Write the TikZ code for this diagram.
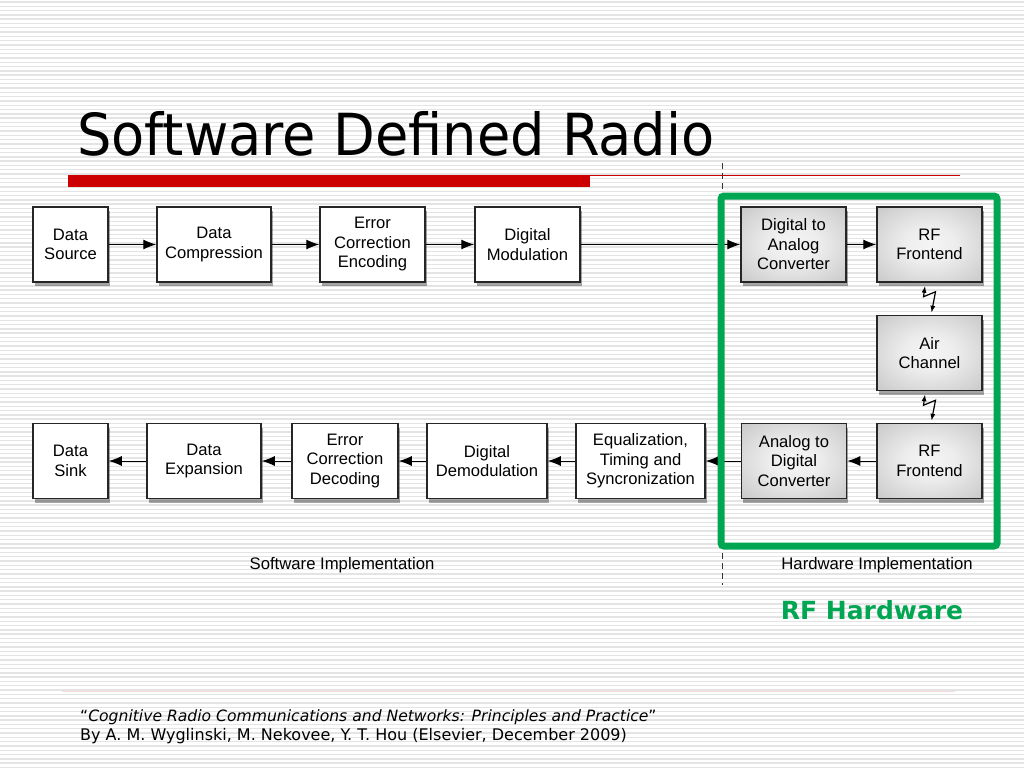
\documentclass[tikz,border=0pt]{standalone}
\usepackage{xcolor}
\usepackage{tikz}
\usepackage{fontspec}
\setmainfont{Liberation Sans}
\newfontfamily\verdfont{DejaVu Sans}
\usetikzlibrary{arrows.meta,shadows,calc}
\definecolor{sdrred}{RGB}{204,0,0}
\definecolor{sdrgreen}{RGB}{0,166,81}
\definecolor{stripe}{RGB}{228,228,228}
\pgfdeclareradialshading{hwshade}{\pgfpoint{0bp}{0bp}}{color(0bp)=(white!96!black); color(12bp)=(white!93!black); color(50bp)=(black!30); color(72bp)=(black!42)}

\begin{document}
\begin{tikzpicture}[x=1pt,y=-1pt,
    every node/.style={align=center},
    blk/.style={draw=black!85,line width=1.5pt,minimum height=75pt,inner sep=0pt,
      font=\fontsize{16.6}{19.5}\selectfont,
      drop shadow={shadow xshift=1.5pt,shadow yshift=-4pt,opacity=0.35,fill=black}},
    sw/.style={blk,fill=white},
    hw/.style={blk,shading=hwshade},
    link/.style={line width=1pt,-{Latex[length=13pt,width=10pt]}},
    zap/.style={line width=1.2pt,{Latex[length=7pt,width=5pt]}-{Latex[length=7pt,width=5pt]}}]
  \useasboundingbox (0,0) rectangle (1024,768);
  \fill[white] (0,0) rectangle (1024,768);
  \foreach \y in {2,6.3,...,768}
    \draw[stripe,line width=1.4pt] (0,\y) -- (1024,\y);

  % title
  \node[anchor=base west,inner sep=0pt] (title) at (77,155)
    {\scalebox{0.935}[1]{\verdfont\fontsize{58}{60}\selectfont Software Defined Radio}};
  \fill[sdrred] (68,175) rectangle (590,187);
  \draw[sdrred,line width=1pt] (590,175.5) -- (960,175.5);

  % split
  \draw[black!80,line width=1pt,dash pattern=on 6pt off 4pt] (722,163) -- (722,585);

  % transmit chain
  \node[sw,minimum width=75pt] (src) at (70.5,244.5) {Data\\Source};
  \node[sw,minimum width=114pt] (cmp) at (214,244.5) {Data\\Compression};
  \node[sw,minimum width=105pt] (enc) at (372.5,244.5) {Error\\Correction\\Encoding};
  \node[sw,minimum width=105pt] (mod) at (527.5,244.5) {Digital\\Modulation};
  \node[hw,minimum width=105pt] (dac) at (793.5,244.5) {Digital to\\Analog\\Converter};
  \node[hw,minimum width=105pt] (rft) at (929.5,244.5) {RF\\Frontend};
  \node[hw,minimum width=105pt] (air) at (929.5,353) {Air\\Channel};

  % receive chain
  \node[hw,minimum width=105pt] (rfb) at (929.5,461) {RF\\Frontend};
  \node[hw,minimum width=105pt] (adc) at (794,461) {Analog to\\Digital\\Converter};
  \node[sw,minimum width=129pt] (eq) at (640.5,461) {Equalization,\\Timing and\\Syncronization};
  \node[sw,minimum width=120pt] (dem) at (487,461) {Digital\\Demodulation};
  \node[sw,minimum width=106pt] (dec) at (345,461) {Error\\Correction\\Decoding};
  \node[sw,minimum width=114pt] (exp) at (204,461) {Data\\Expansion};
  \node[sw,minimum width=75pt] (snk) at (70.5,461) {Data\\Sink};

  \draw[link] (src) -- (cmp);
  \draw[link] (cmp) -- (enc);
  \draw[link] (enc) -- (mod);
  \draw[link] (mod) -- (dac);
  \draw[link] (dac) -- (rft);
  \draw[link] (rfb) -- (adc);
  \draw[link] (adc) -- (eq);
  \draw[link] (eq) -- (dem);
  \draw[link] (dem) -- (dec);
  \draw[link] (dec) -- (exp);
  \draw[link] (exp) -- (snk);

  % radio links
  \draw[zap] ($(rft.south)+(-4.5,3)$) -- ++(-1.5,11) -- ++(12,-5) -- ($(air.north)+(2,-2)$);
  \draw[zap] ($(air.south)+(-4.5,3)$) -- ++(-1.5,11) -- ++(12,-5) -- ($(rfb.north)+(2,-2)$);

  % hardware frame
  \draw[sdrgreen,line width=7pt,rounded corners=3pt] (721,196) rectangle (997,546);

  \node[anchor=base,font=\fontsize{16.7}{18}\selectfont] (swlab) at (342,569) {Software Implementation};
  \node[anchor=base,font=\fontsize{16.7}{18}\selectfont] (hwlab) at (877,569) {Hardware Implementation};
  \node[anchor=base,text=sdrgreen,font=\verdfont\bfseries\fontsize{25}{27}\selectfont] (rfhw) at (872,619) {RF Hardware};

  % reference
  \draw[black!20!red!15,line width=1pt] (62,691) -- (955,691);
  \node[anchor=base west,inner sep=0pt,font=\verdfont\fontsize{15.6}{18}\selectfont] (ref1) at (80,721)
    {“\textit{Cognitive Radio Communications and Networks: Principles and Practice}”};
  \node[anchor=base west,inner sep=0pt,font=\verdfont\fontsize{16}{18}\selectfont] (ref2) at (80,740)
    {By A. M. Wyglinski, M. Nekovee, Y. T. Hou (Elsevier, December 2009)};
\end{tikzpicture}
\end{document}
